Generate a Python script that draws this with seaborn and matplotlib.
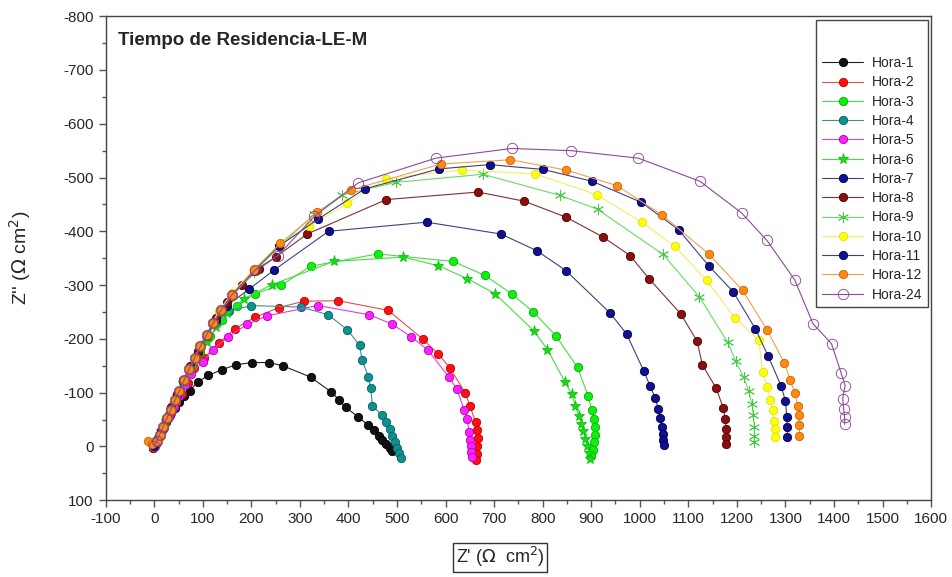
import matplotlib
matplotlib.use("Agg")
import matplotlib.pyplot as plt
from matplotlib.ticker import MultipleLocator
import seaborn as sns

# Nyquist data, Z' (x) and Z'' (y) in ohm cm2
h1_zre = [-3, 2, 6, 12, 18, 25, 33, 42, 52, 62, 73, 90, 111, 140, 169, 201, 236, 265, 322, 365, 380, 394, 420, 440, 452, 462, 470, 478, 485, 490]
h1_zim = [3, -2, -10, -20, -32, -45, -58, -71, -83, -94, -104, -120, -132, -143, -152, -156, -156, -150, -129, -101, -87, -73, -55, -40, -30, -20, -12, -4, 3, 8]

h2_zre = [-2, 3, 8, 15, 24, 34, 45, 57, 70, 82, 103, 133, 166, 207, 256, 308, 379, 482, 554, 585, 609, 641, 650, 662, 664, 666, 665, 664, 663]
h2_zim = [2, -5, -16, -30, -46, -63, -80, -98, -118, -145, -165, -192, -219, -240, -258, -270, -271, -253, -199, -172, -146, -99, -76, -45, -30, -15, 0, 14, 26]

h3_zre = [0, 5, 12, 20, 30, 40, 52, 64, 78, 95, 115, 140, 170, 207, 262, 322, 460, 616, 681, 736, 781, 827, 872, 894, 901, 906, 908, 908, 906, 903, 900]
h3_zim = [0, -10, -24, -40, -60, -80, -102, -124, -148, -175, -205, -235, -262, -284, -300, -335, -358, -344, -318, -284, -250, -206, -147, -93, -68, -51, -36, -22, -8, 6, 18]

h4_zre = [0, 6, 14, 24, 35, 47, 60, 74, 90, 108, 128, 155, 200, 303, 358, 398, 423, 428, 441, 446, 449, 469, 478, 485, 490, 495, 500, 505, 509]
h4_zim = [0, -12, -28, -48, -70, -94, -120, -146, -175, -205, -232, -252, -262, -259, -245, -217, -188, -161, -130, -109, -76, -58, -45, -32, -20, -8, 3, 12, 22]

h5_zre = [0, 5, 12, 20, 30, 40, 52, 64, 76, 100, 121, 152, 192, 233, 337, 442, 489, 529, 563, 607, 623, 639, 645, 648, 650, 652, 653, 654]
h5_zim = [0, -8, -22, -37, -55, -73, -94, -115, -135, -157, -180, -204, -227, -243, -262, -245, -228, -204, -180, -129, -107, -67, -51, -27, -12, 0, 10, 20]

h6_zre = [0, 6, 14, 24, 35, 47, 60, 74, 90, 108, 128, 150, 185, 243, 370, 513, 585, 645, 702, 783, 810, 846, 860, 867, 875, 879, 884, 888, 892, 895, 898]
h6_zim = [0, -12, -28, -48, -70, -94, -118, -142, -168, -195, -222, -248, -275, -301, -344, -352, -336, -312, -284, -214, -180, -120, -97, -76, -56, -42, -28, -14, 0, 12, 24]

h7_zre = [0, 6, 14, 24, 35, 47, 60, 74, 90, 108, 128, 150, 196, 247, 359, 561, 714, 788, 848, 939, 973, 1008, 1021, 1032, 1038, 1042, 1045, 1047, 1048, 1049]
h7_zim = [0, -12, -28, -50, -72, -96, -122, -148, -176, -205, -235, -262, -293, -328, -400, -417, -395, -364, -327, -248, -209, -141, -113, -90, -70, -53, -37, -24, -12, -2]

h8_zre = [0, 6, 14, 24, 35, 47, 60, 74, 90, 108, 128, 150, 180, 215, 250, 315, 478, 667, 762, 849, 925, 980, 1019, 1084, 1118, 1129, 1157, 1172, 1176, 1178, 1178, 1178]
h8_zim = [0, -12, -29, -50, -73, -98, -124, -150, -178, -208, -238, -268, -300, -330, -352, -395, -459, -473, -456, -426, -389, -355, -312, -247, -196, -152, -109, -72, -51, -33, -18, -5]

h9_zre = [0, 5, 11, 18, 26, 34, 43, 52, 62, 72, 83, 95, 108, 122, 138, 160, 205, 256, 330, 386, 497, 677, 835, 913, 1048, 1123, 1181, 1198, 1214, 1224, 1231, 1234, 1236, 1236, 1236]
h9_zim = [0, -10, -22, -36, -52, -68, -86, -104, -124, -144, -164, -186, -208, -230, -254, -280, -324, -370, -432, -467, -491, -506, -467, -441, -357, -278, -194, -158, -129, -104, -79, -58, -36, -20, -8]

h10_zre = [0, 5, 11, 18, 26, 34, 43, 52, 62, 72, 83, 95, 108, 120, 133, 160, 205, 260, 319, 398, 478, 633, 784, 911, 1004, 1072, 1138, 1197, 1245, 1253, 1263, 1269, 1274, 1276, 1278, 1279]
h10_zim = [0, -10, -22, -36, -52, -68, -86, -104, -124, -144, -164, -186, -208, -230, -252, -285, -330, -375, -409, -452, -498, -514, -507, -468, -417, -372, -309, -238, -198, -139, -110, -87, -67, -48, -32, -17]

h11_zre = [0, 5, 11, 18, 26, 34, 43, 52, 62, 72, 83, 95, 108, 122, 138, 160, 205, 256, 338, 434, 586, 691, 801, 902, 1003, 1080, 1142, 1193, 1238, 1264, 1291, 1300, 1303, 1304, 1304]
h11_zim = [0, -10, -22, -36, -52, -68, -86, -104, -124, -144, -164, -186, -208, -230, -254, -282, -326, -372, -423, -479, -516, -524, -515, -493, -454, -403, -336, -287, -219, -169, -113, -85, -54, -36, -17]

h12_zre = [-13, -5, 5, 11, 18, 26, 34, 43, 52, 62, 72, 83, 95, 108, 122, 138, 160, 205, 260, 336, 406, 590, 733, 848, 953, 1045, 1142, 1212, 1262, 1298, 1310, 1319, 1326, 1328, 1329, 1329]
h12_zim = [-11, -4, -10, -22, -36, -52, -68, -86, -104, -124, -144, -164, -186, -208, -230, -254, -282, -328, -378, -435, -477, -525, -533, -514, -485, -431, -358, -290, -217, -155, -124, -99, -76, -58, -39, -20]

h24_zre = [0, 5, 11, 18, 26, 34, 43, 52, 62, 72, 83, 95, 108, 122, 138, 160, 208, 255, 330, 420, 580, 736, 858, 997, 1124, 1210, 1262, 1319, 1357, 1395, 1415, 1423, 1418, 1420, 1422, 1422]
h24_zim = [0, -10, -22, -36, -52, -68, -86, -104, -124, -144, -164, -186, -208, -230, -254, -282, -328, -355, -428, -490, -536, -554, -550, -536, -493, -434, -383, -310, -228, -191, -136, -113, -89, -70, -54, -41]

labels = ["Hora-1", "Hora-2", "Hora-3", "Hora-4", "Hora-5", "Hora-6", "Hora-7",
          "Hora-8", "Hora-9", "Hora-10", "Hora-11", "Hora-12", "Hora-24"]

x_ticks = list(range(-100, 1700, 100))
y_ticks = list(range(-800, 200, 100))


def plot_series(ax, zre, zim, label, line_col, face, edge, marker="o", ms=6):
    """One Nyquist curve: thin line plus markers"""
    sns.lineplot(x=zre, y=zim, ax=ax, sort=False, estimator=None, label=label,
                 color=line_col, linewidth=0.8, marker=marker, markersize=ms,
                 markerfacecolor=face, markeredgecolor=edge, markeredgewidth=0.6)


sns.set_style("white")
plt.rcParams["font.family"] = ["Liberation Sans", "DejaVu Sans"]
plt.rcParams["axes.unicode_minus"] = False

fig = plt.figure(figsize=(9.52, 5.77), dpi=100)
ax = fig.add_axes([0.111, 0.133, 0.867, 0.839])

plot_series(ax, h1_zre, h1_zim, labels[0], "#222222", "#111111", "#000000")
plot_series(ax, h2_zre, h2_zim, labels[1], "#E05050", "#FF1010", "#C00000")
plot_series(ax, h3_zre, h3_zim, labels[2], "#44DD44", "#10F010", "#00B000")
plot_series(ax, h4_zre, h4_zim, labels[3], "#409090", "#109090", "#006060")
plot_series(ax, h5_zre, h5_zim, labels[4], "#E040E0", "#FF20FF", "#B000B0")
plot_series(ax, h6_zre, h6_zim, labels[5], "#44DD44", "#10E010", "#10C010", marker="*", ms=8)
plot_series(ax, h7_zre, h7_zim, labels[6], "#404080", "#101090", "#000050")
plot_series(ax, h8_zre, h8_zim, labels[7], "#803030", "#8A1010", "#500000")
plot_series(ax, h9_zre, h9_zim, labels[8], "#66DD66", "#55DD55", "#44CC44", marker=(6, 2, 0), ms=8)
plot_series(ax, h10_zre, h10_zim, labels[9], "#F0F060", "#FFFF10", "#E0E000")
plot_series(ax, h11_zre, h11_zim, labels[10], "#404080", "#101090", "#000050")
plot_series(ax, h12_zre, h12_zim, labels[11], "#F0A050", "#FF8A10", "#D06000")
plot_series(ax, h24_zre, h24_zim, labels[12], "#8A4A9A", "none", "#8A3A9A", ms=7.5)

# axes, inverted imaginary axis
ax.set_xlim(-100, 1600)
ax.set_ylim(100, -800)
ax.set_xticks(x_ticks)
ax.set_yticks(y_ticks)
ax.xaxis.set_minor_locator(MultipleLocator(50))
ax.yaxis.set_minor_locator(MultipleLocator(50))
ax.tick_params(which="major", direction="out", length=5, width=1, color="#555555",
               labelsize=11, bottom=True, left=True, top=False, right=False)
ax.tick_params(which="minor", direction="out", length=3, width=1, color="#555555",
               bottom=True, left=True, top=False, right=False)
for spine in ax.spines.values():
    spine.set_color("#444444")
    spine.set_linewidth(1)

ax.set_xlabel("Z' ($\\Omega$  cm$^2$)", fontsize=13,
              bbox=dict(boxstyle="square,pad=0.15", facecolor="white", edgecolor="#333333"))
ax.xaxis.set_label_coords(0.478, -0.093)
ax.set_ylabel("Z'' ($\\Omega$ cm$^2$)", fontsize=14)
ax.yaxis.set_label_coords(-0.088, 0.5)

ax.text(0.015, 0.95, "Tiempo de Residencia-LE-M", transform=ax.transAxes,
        fontsize=13.5, fontweight="bold", va="center", ha="left")

leg = ax.legend(loc="upper right", bbox_to_anchor=(0.996, 0.993), borderaxespad=0,
                fontsize=10, title="\n", title_fontsize=9, fancybox=False,
                framealpha=1, edgecolor="#444444", handlelength=3.0,
                labelspacing=0.38, handletextpad=0.6)
leg.get_frame().set_linewidth(1)

fig.savefig("out.png", dpi=100)
